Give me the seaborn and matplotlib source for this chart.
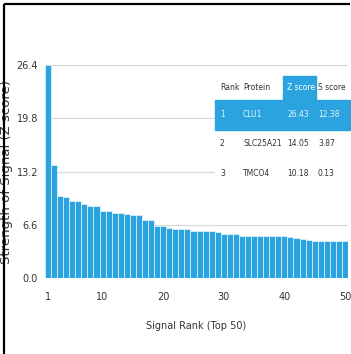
import matplotlib
matplotlib.use("Agg")
import matplotlib.pyplot as plt
from matplotlib.lines import Line2D
from matplotlib.patches import Rectangle
import pandas as pd
import seaborn as sns

sns.set_style("white")
plt.rcParams['font.family'] = ['Liberation Sans Narrow', 'DejaVu Sans']

# data
ranks = list(range(1, 51))
z_scores = [26.43, 14.05, 10.18, 10.05, 9.6, 9.55, 9.15, 8.95, 8.9, 8.3,
            8.25, 8.1, 8.0, 7.95, 7.8, 7.75, 7.2, 7.15, 6.5, 6.4,
            6.15, 6.13, 6.12, 6.1, 5.85, 5.82, 5.8, 5.78, 5.75, 5.5,
            5.48, 5.46, 5.25, 5.24, 5.22, 5.2, 5.2, 5.18, 5.17, 5.15,
            5.1, 4.9, 4.85, 4.65, 4.62, 4.6, 4.6, 4.58, 4.57, 4.55]
yticks = [0.0, 6.6, 13.2, 19.8, 26.4]
xtick_ranks = [1, 10, 20, 30, 40, 50]

tbl_header = ["Rank", "Protein", "Z score", "S score"]
tbl_rank = ["1", "2", "3"]
tbl_protein = ["CLU1", "SLC25A21", "TMCO4"]
tbl_z = ["26.43", "14.05", "10.18"]
tbl_s = ["12.38", "3.87", "0.13"]

df = pd.DataFrame({"rank": ranks, "z": z_scores})

W, H = 351, 354
fig = plt.figure(figsize=(W / 100, H / 100), dpi=100)
ax = fig.add_axes([45 / W, 1 - 278 / H, 303 / W, (278 - 62) / H])

blue = "#2aa3de"
sns.barplot(data=df, x="rank", y="z", color=blue, saturation=1, width=1.0,
            edgecolor="white", linewidth=0.4, ax=ax, zorder=3)

ax.set_ylim(0, 26.4 * (278 - 62) / (278 - 65))
ax.set_xlim(-0.5, 49.5)
ax.set_yticks(yticks)
ax.set_yticklabels([f"{v:.1f}" for v in yticks], fontsize=7, color="#333333")
ax.set_xticks([r - 1 for r in xtick_ranks])
ax.set_xticklabels([str(r) for r in xtick_ranks], fontsize=7, color="#333333")
ax.tick_params(length=0, pad=5)
ax.tick_params(axis="x", pad=10)
for s in ax.spines.values():
    s.set_visible(False)
ax.grid(False)
for v in yticks[1:]:
    ax.axhline(v, color="#d9d9d9", lw=0.9, zorder=1)

ax.set_xlabel("Signal Rank (Top 50)", fontsize=7, color="#333333", labelpad=14)
ax.set_ylabel("Strength of Signal (Z score)", fontsize=9.5, color="#333333")
ax.yaxis.set_label_coords((13 - 45) / 303, (278 - 172) / (278 - 62))

# table drawn in pixel coords of the figure
def fx(px):
    return px / W

def fy(py):
    return 1 - py / H

fig.patches.append(Rectangle((fx(215), fy(188)), fx(350) - fx(215), fy(76) - fy(188),
                             transform=fig.transFigure, color="white", zorder=5))
fig.patches.append(Rectangle((fx(283), fy(100)), fx(316) - fx(283), fy(76) - fy(100),
                             transform=fig.transFigure, color=blue, zorder=6))
fig.patches.append(Rectangle((fx(215), fy(130)), fx(350) - fx(215), fy(100) - fy(130),
                             transform=fig.transFigure, color=blue, zorder=6))

col_x = [220, 243, 287, 318]
for cx, txt in zip(col_x, tbl_header):
    c = "white" if txt == "Z score" else "#333333"
    fig.text(fx(cx), fy(87), txt, fontsize=5.5, color=c, va="center", ha="left", zorder=7)
row_y = [115, 144, 173]
for i, ry in enumerate(row_y):
    c = "#e8f4fb" if i == 0 else "#333333"
    for cx, txt in zip(col_x, [tbl_rank[i], tbl_protein[i], tbl_z[i], tbl_s[i]]):
        fig.text(fx(cx), fy(ry), txt, fontsize=5.5, color=c, va="center", ha="left", zorder=7)

# black frame on left and top
fig.add_artist(Line2D([fx(4), fx(4)], [0, fy(4)], color="black", lw=1.6,
                      solid_capstyle="butt"))
fig.add_artist(Line2D([fx(4), fx(350)], [fy(4), fy(4)], color="black", lw=1.6,
                      solid_capstyle="butt"))

fig.savefig("out.png", dpi=100)
